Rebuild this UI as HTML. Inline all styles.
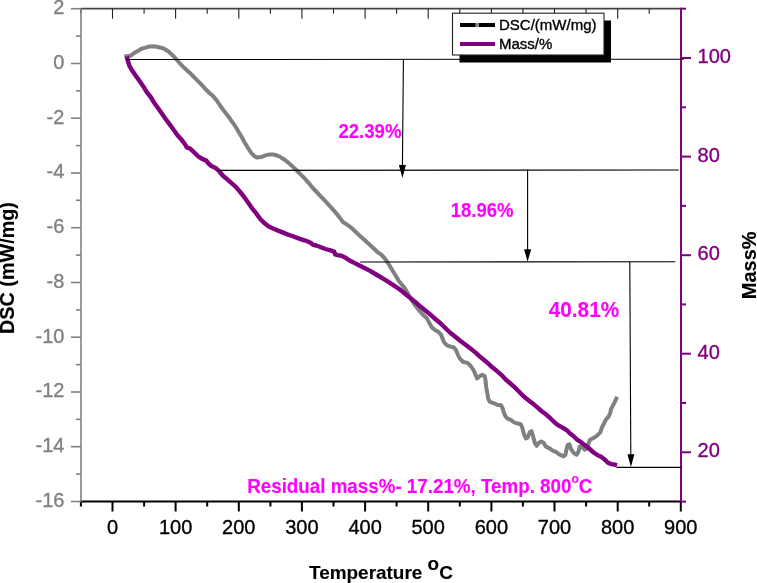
<!DOCTYPE html>
<html><head><meta charset="utf-8"><style>
html,body{margin:0;padding:0;background:#fff;overflow:hidden;}
svg{display:block;will-change:transform;}
text{font-family:"Liberation Sans",sans-serif;}
</style></head><body>
<svg width="757" height="583" viewBox="0 0 757 583">
<rect width="757" height="583" fill="#fff"/>
<line x1="81.0" y1="8.7" x2="681.0" y2="8.7" stroke="#444" stroke-width="1.8"/>
<line x1="80.9" y1="8.7" x2="80.9" y2="13.7" stroke="#222" stroke-width="1.1"/>
<line x1="112.5" y1="8.7" x2="112.5" y2="18.7" stroke="#222" stroke-width="1.1"/>
<line x1="144.1" y1="8.7" x2="144.1" y2="13.7" stroke="#222" stroke-width="1.1"/>
<line x1="175.6" y1="8.7" x2="175.6" y2="18.7" stroke="#222" stroke-width="1.1"/>
<line x1="207.2" y1="8.7" x2="207.2" y2="13.7" stroke="#222" stroke-width="1.1"/>
<line x1="238.8" y1="8.7" x2="238.8" y2="18.7" stroke="#222" stroke-width="1.1"/>
<line x1="270.4" y1="8.7" x2="270.4" y2="13.7" stroke="#222" stroke-width="1.1"/>
<line x1="301.9" y1="8.7" x2="301.9" y2="18.7" stroke="#222" stroke-width="1.1"/>
<line x1="333.5" y1="8.7" x2="333.5" y2="13.7" stroke="#222" stroke-width="1.1"/>
<line x1="365.1" y1="8.7" x2="365.1" y2="18.7" stroke="#222" stroke-width="1.1"/>
<line x1="396.6" y1="8.7" x2="396.6" y2="13.7" stroke="#222" stroke-width="1.1"/>
<line x1="428.2" y1="8.7" x2="428.2" y2="18.7" stroke="#222" stroke-width="1.1"/>
<line x1="459.8" y1="8.7" x2="459.8" y2="13.7" stroke="#222" stroke-width="1.1"/>
<line x1="491.4" y1="8.7" x2="491.4" y2="18.7" stroke="#222" stroke-width="1.1"/>
<line x1="522.9" y1="8.7" x2="522.9" y2="13.7" stroke="#222" stroke-width="1.1"/>
<line x1="554.5" y1="8.7" x2="554.5" y2="18.7" stroke="#222" stroke-width="1.1"/>
<line x1="586.1" y1="8.7" x2="586.1" y2="13.7" stroke="#222" stroke-width="1.1"/>
<line x1="617.7" y1="8.7" x2="617.7" y2="18.7" stroke="#222" stroke-width="1.1"/>
<line x1="649.2" y1="8.7" x2="649.2" y2="13.7" stroke="#222" stroke-width="1.1"/>
<line x1="680.8" y1="8.7" x2="680.8" y2="18.7" stroke="#222" stroke-width="1.1"/>
<line x1="80.5" y1="501.5" x2="681.0" y2="501.5" stroke="#000" stroke-width="2"/>
<line x1="80.9" y1="501.5" x2="80.9" y2="506.5" stroke="#000" stroke-width="2"/>
<line x1="112.5" y1="501.5" x2="112.5" y2="511.5" stroke="#000" stroke-width="2"/>
<text x="112.5" y="533.5" font-family="Liberation Sans, sans-serif" font-size="20" text-anchor="middle" fill="#000" stroke="#000" stroke-width="0.35">0</text>
<line x1="144.1" y1="501.5" x2="144.1" y2="506.5" stroke="#000" stroke-width="2"/>
<line x1="175.6" y1="501.5" x2="175.6" y2="511.5" stroke="#000" stroke-width="2"/>
<text x="175.6" y="533.5" font-family="Liberation Sans, sans-serif" font-size="20" text-anchor="middle" fill="#000" stroke="#000" stroke-width="0.35">100</text>
<line x1="207.2" y1="501.5" x2="207.2" y2="506.5" stroke="#000" stroke-width="2"/>
<line x1="238.8" y1="501.5" x2="238.8" y2="511.5" stroke="#000" stroke-width="2"/>
<text x="238.8" y="533.5" font-family="Liberation Sans, sans-serif" font-size="20" text-anchor="middle" fill="#000" stroke="#000" stroke-width="0.35">200</text>
<line x1="270.4" y1="501.5" x2="270.4" y2="506.5" stroke="#000" stroke-width="2"/>
<line x1="301.9" y1="501.5" x2="301.9" y2="511.5" stroke="#000" stroke-width="2"/>
<text x="301.9" y="533.5" font-family="Liberation Sans, sans-serif" font-size="20" text-anchor="middle" fill="#000" stroke="#000" stroke-width="0.35">300</text>
<line x1="333.5" y1="501.5" x2="333.5" y2="506.5" stroke="#000" stroke-width="2"/>
<line x1="365.1" y1="501.5" x2="365.1" y2="511.5" stroke="#000" stroke-width="2"/>
<text x="365.1" y="533.5" font-family="Liberation Sans, sans-serif" font-size="20" text-anchor="middle" fill="#000" stroke="#000" stroke-width="0.35">400</text>
<line x1="396.6" y1="501.5" x2="396.6" y2="506.5" stroke="#000" stroke-width="2"/>
<line x1="428.2" y1="501.5" x2="428.2" y2="511.5" stroke="#000" stroke-width="2"/>
<text x="428.2" y="533.5" font-family="Liberation Sans, sans-serif" font-size="20" text-anchor="middle" fill="#000" stroke="#000" stroke-width="0.35">500</text>
<line x1="459.8" y1="501.5" x2="459.8" y2="506.5" stroke="#000" stroke-width="2"/>
<line x1="491.4" y1="501.5" x2="491.4" y2="511.5" stroke="#000" stroke-width="2"/>
<text x="491.4" y="533.5" font-family="Liberation Sans, sans-serif" font-size="20" text-anchor="middle" fill="#000" stroke="#000" stroke-width="0.35">600</text>
<line x1="522.9" y1="501.5" x2="522.9" y2="506.5" stroke="#000" stroke-width="2"/>
<line x1="554.5" y1="501.5" x2="554.5" y2="511.5" stroke="#000" stroke-width="2"/>
<text x="554.5" y="533.5" font-family="Liberation Sans, sans-serif" font-size="20" text-anchor="middle" fill="#000" stroke="#000" stroke-width="0.35">700</text>
<line x1="586.1" y1="501.5" x2="586.1" y2="506.5" stroke="#000" stroke-width="2"/>
<line x1="617.7" y1="501.5" x2="617.7" y2="511.5" stroke="#000" stroke-width="2"/>
<text x="617.7" y="533.5" font-family="Liberation Sans, sans-serif" font-size="20" text-anchor="middle" fill="#000" stroke="#000" stroke-width="0.35">800</text>
<line x1="649.2" y1="501.5" x2="649.2" y2="506.5" stroke="#000" stroke-width="2"/>
<line x1="680.8" y1="501.5" x2="680.8" y2="511.5" stroke="#000" stroke-width="2"/>
<text x="680.8" y="533.5" font-family="Liberation Sans, sans-serif" font-size="20" text-anchor="middle" fill="#000" stroke="#000" stroke-width="0.35">900</text>
<line x1="81.0" y1="8.2" x2="81.0" y2="501.5" stroke="#808080" stroke-width="1.6"/>
<line x1="71.0" y1="501.5" x2="81.0" y2="501.5" stroke="#808080" stroke-width="1.6"/>
<text x="64.4" y="506.9" font-family="Liberation Sans, sans-serif" font-size="20" text-anchor="end" fill="#808080" stroke="#808080" stroke-width="0.35">-16</text>
<line x1="76.0" y1="474.1" x2="81.0" y2="474.1" stroke="#808080" stroke-width="1.6"/>
<line x1="71.0" y1="446.7" x2="81.0" y2="446.7" stroke="#808080" stroke-width="1.6"/>
<text x="64.4" y="452.1" font-family="Liberation Sans, sans-serif" font-size="20" text-anchor="end" fill="#808080" stroke="#808080" stroke-width="0.35">-14</text>
<line x1="76.0" y1="419.4" x2="81.0" y2="419.4" stroke="#808080" stroke-width="1.6"/>
<line x1="71.0" y1="392.0" x2="81.0" y2="392.0" stroke="#808080" stroke-width="1.6"/>
<text x="64.4" y="397.4" font-family="Liberation Sans, sans-serif" font-size="20" text-anchor="end" fill="#808080" stroke="#808080" stroke-width="0.35">-12</text>
<line x1="76.0" y1="364.6" x2="81.0" y2="364.6" stroke="#808080" stroke-width="1.6"/>
<line x1="71.0" y1="337.2" x2="81.0" y2="337.2" stroke="#808080" stroke-width="1.6"/>
<text x="64.4" y="342.6" font-family="Liberation Sans, sans-serif" font-size="20" text-anchor="end" fill="#808080" stroke="#808080" stroke-width="0.35">-10</text>
<line x1="76.0" y1="309.9" x2="81.0" y2="309.9" stroke="#808080" stroke-width="1.6"/>
<line x1="71.0" y1="282.5" x2="81.0" y2="282.5" stroke="#808080" stroke-width="1.6"/>
<text x="64.4" y="287.9" font-family="Liberation Sans, sans-serif" font-size="20" text-anchor="end" fill="#808080" stroke="#808080" stroke-width="0.35">-8</text>
<line x1="76.0" y1="255.1" x2="81.0" y2="255.1" stroke="#808080" stroke-width="1.6"/>
<line x1="71.0" y1="227.7" x2="81.0" y2="227.7" stroke="#808080" stroke-width="1.6"/>
<text x="64.4" y="233.1" font-family="Liberation Sans, sans-serif" font-size="20" text-anchor="end" fill="#808080" stroke="#808080" stroke-width="0.35">-6</text>
<line x1="76.0" y1="200.3" x2="81.0" y2="200.3" stroke="#808080" stroke-width="1.6"/>
<line x1="71.0" y1="173.0" x2="81.0" y2="173.0" stroke="#808080" stroke-width="1.6"/>
<text x="64.4" y="178.4" font-family="Liberation Sans, sans-serif" font-size="20" text-anchor="end" fill="#808080" stroke="#808080" stroke-width="0.35">-4</text>
<line x1="76.0" y1="145.6" x2="81.0" y2="145.6" stroke="#808080" stroke-width="1.6"/>
<line x1="71.0" y1="118.2" x2="81.0" y2="118.2" stroke="#808080" stroke-width="1.6"/>
<text x="64.4" y="123.6" font-family="Liberation Sans, sans-serif" font-size="20" text-anchor="end" fill="#808080" stroke="#808080" stroke-width="0.35">-2</text>
<line x1="76.0" y1="90.8" x2="81.0" y2="90.8" stroke="#808080" stroke-width="1.6"/>
<line x1="71.0" y1="63.5" x2="81.0" y2="63.5" stroke="#808080" stroke-width="1.6"/>
<text x="64.4" y="68.9" font-family="Liberation Sans, sans-serif" font-size="20" text-anchor="end" fill="#808080" stroke="#808080" stroke-width="0.35">0</text>
<line x1="76.0" y1="36.1" x2="81.0" y2="36.1" stroke="#808080" stroke-width="1.6"/>
<line x1="71.0" y1="8.7" x2="81.0" y2="8.7" stroke="#808080" stroke-width="1.6"/>
<text x="64.4" y="14.1" font-family="Liberation Sans, sans-serif" font-size="20" text-anchor="end" fill="#808080" stroke="#808080" stroke-width="0.35">2</text>
<line x1="681.0" y1="7.699999999999999" x2="681.0" y2="502.0" stroke="#800080" stroke-width="2"/>
<line x1="681.0" y1="501.6" x2="686.0" y2="501.6" stroke="#800080" stroke-width="2"/>
<line x1="681.0" y1="452.3" x2="691.0" y2="452.3" stroke="#800080" stroke-width="2"/>
<text x="697.6" y="457.4" font-family="Liberation Sans, sans-serif" font-size="20" fill="#800080" stroke="#800080" stroke-width="0.35">20</text>
<line x1="681.0" y1="403.0" x2="686.0" y2="403.0" stroke="#800080" stroke-width="2"/>
<line x1="681.0" y1="353.7" x2="691.0" y2="353.7" stroke="#800080" stroke-width="2"/>
<text x="697.6" y="358.8" font-family="Liberation Sans, sans-serif" font-size="20" fill="#800080" stroke="#800080" stroke-width="0.35">40</text>
<line x1="681.0" y1="304.4" x2="686.0" y2="304.4" stroke="#800080" stroke-width="2"/>
<line x1="681.0" y1="255.2" x2="691.0" y2="255.2" stroke="#800080" stroke-width="2"/>
<text x="697.6" y="260.2" font-family="Liberation Sans, sans-serif" font-size="20" fill="#800080" stroke="#800080" stroke-width="0.35">60</text>
<line x1="681.0" y1="205.9" x2="686.0" y2="205.9" stroke="#800080" stroke-width="2"/>
<line x1="681.0" y1="156.6" x2="691.0" y2="156.6" stroke="#800080" stroke-width="2"/>
<text x="697.6" y="161.7" font-family="Liberation Sans, sans-serif" font-size="20" fill="#800080" stroke="#800080" stroke-width="0.35">80</text>
<line x1="681.0" y1="107.3" x2="686.0" y2="107.3" stroke="#800080" stroke-width="2"/>
<line x1="681.0" y1="58.0" x2="691.0" y2="58.0" stroke="#800080" stroke-width="2"/>
<text x="697.6" y="63.1" font-family="Liberation Sans, sans-serif" font-size="20" fill="#800080" stroke="#800080" stroke-width="0.35">100</text>
<line x1="681.0" y1="8.7" x2="686.0" y2="8.7" stroke="#800080" stroke-width="2"/>
<polyline points="126.3,56.2 130.3,55.8 135.1,52.4 142.0,48.6 148.9,46.6 154.4,46.2 160.0,47.5 164.1,48.7 168.2,51.3 172.3,54.9 176.5,59.5 180.6,64.2 184.7,68.3 188.8,71.9 192.9,76.0 197.0,80.1 201.2,84.2 205.3,88.9 209.4,93.0 213.5,96.6 217.0,100.8 220.1,105.5 224.3,111.3 228.4,116.5 232.0,121.6 235.6,126.7 238.7,131.9 241.7,137.0 244.8,142.7 247.9,147.8 251.0,152.5 254.1,156.0 257.2,157.6 261.3,157.1 265.4,155.4 269.5,154.4 273.5,154.5 277.0,155.5 279.7,156.6 283.8,159.2 287.9,162.3 292.0,165.9 296.2,170.0 300.3,174.1 304.4,178.2 308.5,182.8 312.4,187.5 316.2,191.5 320.3,195.8 324.4,200.2 328.5,204.7 332.6,209.2 336.7,213.8 340.3,218.4 342.9,222.0 347.0,224.6 351.2,227.6 355.3,231.5 359.4,235.4 363.5,239.0 367.0,242.3 370.0,245.0 373.2,248.0 377.3,251.8 381.5,254.9 384.5,258.0 387.1,261.6 389.7,265.7 392.8,270.9 395.9,276.0 399.0,281.2 402.6,285.5 405.6,289.4 408.2,294.0 411.2,299.4 415.3,305.6 419.4,310.7 423.0,314.8 426.6,317.9 429.2,322.6 431.7,327.2 435.3,330.3 438.4,331.8 441.0,334.6 442.7,338.9 444.4,342.7 447.0,345.3 450.5,346.6 453.9,347.5 456.0,350.0 457.7,354.3 459.9,358.6 463.3,362.0 467.6,362.9 470.2,365.5 472.8,368.9 474.5,372.2 477.1,378.4 479.7,376.3 482.3,374.8 484.8,376.3 485.6,381.0 486.4,388.6 487.3,392.9 488.1,398.0 489.4,401.4 492.0,402.7 495.0,403.6 497.1,404.9 500.6,404.9 502.3,407.4 503.6,411.7 505.3,416.0 507.4,418.6 510.8,419.8 513.4,422.0 516.8,423.3 520.8,424.2 522.3,427.7 523.9,433.9 525.8,438.5 527.7,437.7 529.6,432.3 531.6,431.2 533.1,436.2 534.7,442.4 536.6,445.8 538.5,443.1 541.2,441.6 543.9,443.1 545.8,446.6 548.5,447.8 550.9,449.3 553.2,450.9 556.3,452.0 558.6,454.0 560.9,455.1 563.6,456.3 565.3,455.0 566.4,450.0 567.7,444.9 569.4,444.4 571.1,449.1 573.7,453.0 576.7,454.7 578.4,451.7 579.7,446.6 582.3,447.4 584.9,449.6 587.0,448.3 588.3,444.0 590.0,439.7 593.4,438.0 596.8,435.9 600.3,432.4 601.9,427.7 603.9,423.6 606.0,419.5 608.4,416.8 610.1,413.3 611.1,409.2 612.8,405.8 614.9,401.7 616.3,398.6" fill="none" stroke="#808080" stroke-width="4" stroke-linejoin="round" stroke-linecap="square"/>
<polyline points="126.9,56.3 127.6,60.0 129.6,66.2 132.7,71.3 136.3,76.5 139.9,81.6 143.5,86.7 146.6,91.9 150.7,97.0 153.8,102.2 157.4,107.3 161.0,112.3 165.1,118.2 169.3,123.9 173.4,129.5 177.5,135.2 181.6,139.8 185.2,144.5 186.7,147.3 189.8,148.3 194.0,152.2 198.1,156.3 202.2,158.9 206.3,160.6 208.4,163.3 211.4,166.0 215.6,167.9 219.5,171.5 223.2,176.0 227.3,179.3 231.5,183.1 235.6,186.7 239.7,191.4 243.8,196.5 247.9,202.2 252.0,208.2 255.0,211.8 257.1,214.6 260.1,218.7 264.3,223.1 268.4,226.2 273.5,228.8 278.7,230.9 283.8,232.9 289.0,235.0 294.1,236.7 299.2,238.6 304.4,240.3 308.5,241.8 311.0,243.0 313.1,244.8 316.2,245.5 320.3,247.0 325.4,249.0 330.6,250.4 334.2,251.6 335.2,254.5 337.8,255.2 340.9,255.6 345.0,257.4 349.1,260.2 354.2,262.9 359.4,265.5 365.0,268.3 370.1,270.9 375.3,274.0 380.4,277.0 385.6,280.1 390.7,283.3 395.9,286.8 401.0,290.4 405.0,293.7 410.1,297.9 415.3,302.0 420.4,306.6 425.6,310.7 430.7,314.8 435.9,319.5 441.0,323.8 445.8,328.5 450.5,333.0 455.6,337.0 460.8,341.3 465.9,345.0 471.1,349.0 475.6,352.6 480.7,357.3 485.9,361.4 491.0,366.2 496.2,370.4 501.3,374.8 505.7,379.5 510.8,383.8 515.1,387.7 519.4,392.0 523.5,396.3 529.7,401.2 533.8,404.3 537.9,407.9 542.0,411.5 546.2,414.6 550.3,418.2 554.4,422.3 558.5,425.4 563.4,428.1 566.9,430.3 570.3,433.7 573.7,436.3 577.1,439.7 580.6,441.9 584.0,444.4 587.4,447.0 590.8,450.0 594.3,453.0 597.7,455.1 601.1,456.8 604.6,459.4 608.0,462.8 611.4,464.1 614.8,464.6 617.0,465.3" fill="none" stroke="#800080" stroke-width="4.4" stroke-linejoin="round" stroke-linecap="butt"/>
<g stroke="#000" stroke-width="1.1" fill="none">
<line x1="126.9" y1="59.5" x2="683.8" y2="59.2"/>
<line x1="218.5" y1="170.4" x2="678.8" y2="170"/>
<line x1="360.1" y1="262" x2="675.3" y2="261.8"/>
<line x1="616.6" y1="467.4" x2="681" y2="467.4"/>
<line x1="403.4" y1="60" x2="402.4" y2="168"/>
<line x1="527.6" y1="169.5" x2="527.6" y2="252"/>
<line x1="629.8" y1="262" x2="630.8" y2="457"/>
</g>
<polygon points="398.9,165 405.9,165 402.4,178" fill="#000"/>
<polygon points="524.1,249.3 531.1,249.3 527.6,261.8" fill="#000"/>
<polygon points="627.4,454.2 634.4,454.2 630.9,467" fill="#000"/>
<text transform="translate(338.4,138) scale(1,1.07)" font-family="Liberation Sans, sans-serif" font-weight="bold" font-size="18.6" fill="#f0f" stroke="#f0f" stroke-width="0.12">22.39%</text>
<text transform="translate(450.8,217.1) scale(1,1.07)" font-family="Liberation Sans, sans-serif" font-weight="bold" font-size="18.5" fill="#f0f" stroke="#f0f" stroke-width="0.12">18.96%</text>
<text transform="translate(548.8,317.2) scale(1,1.09)" font-family="Liberation Sans, sans-serif" font-weight="bold" font-size="20.75" fill="#f0f" stroke="#f0f" stroke-width="0.12">40.81%</text>
<text transform="translate(247.2,493.1) scale(1,1.04)" font-family="Liberation Sans, sans-serif" font-weight="bold" font-size="18.8" fill="#f0f" stroke="#f0f" stroke-width="0.12">Residual mass%- 17.21%, Temp. 800<tspan font-size="12" dy="-10">o</tspan><tspan dy="10">C</tspan></text>
<rect x="459.5" y="20.5" width="151.5" height="42" fill="#000"/>
<rect x="452.5" y="13.2" width="151.5" height="41.8" fill="#fff" stroke="#222" stroke-width="1.1"/>
<line x1="460" y1="25" x2="475.8" y2="25" stroke="#000" stroke-width="4"/>
<line x1="475.8" y1="25" x2="479" y2="25" stroke="#8a8a8a" stroke-width="4"/>
<line x1="479" y1="25" x2="495" y2="25" stroke="#000" stroke-width="4"/>
<line x1="460" y1="44" x2="495" y2="44" stroke="#800080" stroke-width="4"/>
<text x="499" y="29.7" font-family="Liberation Sans, sans-serif" font-size="15" fill="#000" stroke="#000" stroke-width="0.35">DSC/(mW/mg)</text>
<text x="499" y="48.9" font-family="Liberation Sans, sans-serif" font-size="15" fill="#000" stroke="#000" stroke-width="0.35">Mass/%</text>
<text x="309" y="579.2" font-family="Liberation Sans, sans-serif" font-weight="bold" font-size="18.95" fill="#000" stroke="#000" stroke-width="0.12">Temperature <tspan dy="-9.5">o</tspan><tspan dy="9.5">C</tspan></text>
<text transform="translate(14.3,268) rotate(-90)" font-family="Liberation Sans, sans-serif" font-weight="bold" font-size="19.8" text-anchor="middle" fill="#000" stroke="#000" stroke-width="0.12">DSC (mW/mg)</text>
<text transform="translate(756.3,265.3) rotate(-90)" font-family="Liberation Sans, sans-serif" font-weight="bold" font-size="20" text-anchor="middle" fill="#000" stroke="#000" stroke-width="0.12">Mass%</text>
</svg>
</body></html>
